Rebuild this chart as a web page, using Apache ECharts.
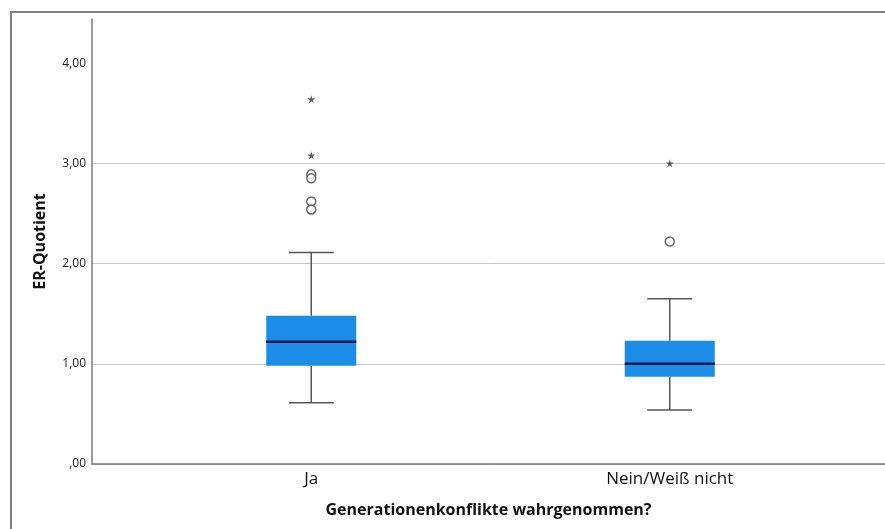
<!DOCTYPE html>
<html>
<head>
<meta charset="utf-8">
<script src="https://cdn.jsdelivr.net/npm/echarts@6/dist/echarts.min.js"></script>
<style>html,body{margin:0;padding:0;background:#fff}#c{width:885px;height:529px}</style>
</head>
<body>
<div id="c"></div>
<script>
const categories = ['Ja', 'Nein/Weiß nicht'];
// [lower whisker, Q1, median, Q3, upper whisker]
const boxData = [
  [0.61, 0.98, 1.22, 1.48, 2.11],
  [0.54, 0.87, 1.00, 1.23, 1.65]
];
const outlierCircles = [[0, 2.89], [0, 2.85], [0, 2.62], [0, 2.54], [1, 2.22]];
const outlierStars = [[0, 3.64], [0, 3.08], [1, 3.00]];
const yTicks = [0, 1, 2, 3, 4];

const FONT = '"Open Sans", "DejaVu Sans", sans-serif';
const chart = echarts.init(document.getElementById('c'), null, {renderer: 'canvas'});

const boxWidth = 90, capWidth = 45;
function renderBox(params, api) {
  const ci = api.value(0);
  const lo = api.coord([ci, api.value(1)]);
  const q1 = api.coord([ci, api.value(2)]);
  const med = api.coord([ci, api.value(3)]);
  const q3 = api.coord([ci, api.value(4)]);
  const hi = api.coord([ci, api.value(5)]);
  const x = lo[0];
  const ws = {stroke: '#555', lineWidth: 1.5};
  return {
    type: 'group',
    children: [
      {type: 'line', shape: {x1: x, y1: hi[1], x2: x, y2: q3[1]}, style: ws},
      {type: 'line', shape: {x1: x, y1: q1[1], x2: x, y2: lo[1]}, style: ws},
      {type: 'line', shape: {x1: x - capWidth / 2, y1: hi[1], x2: x + capWidth / 2, y2: hi[1]}, style: ws},
      {type: 'line', shape: {x1: x - capWidth / 2, y1: lo[1], x2: x + capWidth / 2, y2: lo[1]}, style: ws},
      {type: 'rect', shape: {x: x - boxWidth / 2, y: q3[1], width: boxWidth, height: q1[1] - q3[1]}, style: {fill: '#1c8de6'}},
      {type: 'line', shape: {x1: x - boxWidth / 2, y1: med[1], x2: x + boxWidth / 2, y2: med[1]}, style: {stroke: '#0e1a4e', lineWidth: 2.5}}
    ]
  };
}

const yAxisCommon = {type: 'value', min: 0, max: 4.44, interval: 1};

chart.setOption({
  animation: false,
  backgroundColor: '#fff',
  graphic: [{
    type: 'rect', z: 100,
    shape: {x: 11, y: 12, width: 900, height: 600},
    style: {fill: 'none', stroke: '#7f7f7f', lineWidth: 2}
  }],
  grid: [
    {left: 92, right: 0, top: 19, bottom: 65},
    {left: 132, width: 717, top: 19, bottom: 65}
  ],
  xAxis: [
    {
      gridIndex: 0, type: 'value', min: 0, max: 1,
      axisLine: {show: true, onZero: false, lineStyle: {color: '#7a7a7a', width: 1.5}},
      axisTick: {show: false}, axisLabel: {show: false}, splitLine: {show: false},
      name: 'Generationenkonflikte wahrgenommen?', nameLocation: 'middle', nameGap: 38,
      nameTextStyle: {fontFamily: FONT, fontSize: 16, fontWeight: 'bold', color: '#111'}
    },
    {
      gridIndex: 1, type: 'category', data: categories, boundaryGap: true,
      axisLine: {show: false}, axisTick: {show: false}, splitLine: {show: false},
      axisLabel: {fontFamily: FONT, fontSize: 17, color: '#111', margin: 7}
    }
  ],
  yAxis: [
    Object.assign({}, yAxisCommon, {
      gridIndex: 0,
      axisLine: {show: true, lineStyle: {color: '#7a7a7a', width: 1.5}},
      axisTick: {show: false, customValues: yTicks},
      splitLine: {show: true, showMaxLine: false, lineStyle: {color: '#c8c8c8', width: 1}},
      axisLabel: {
        fontFamily: FONT, fontSize: 12, color: '#222', margin: 6,
        customValues: yTicks,
        formatter: v => v === 0 ? ',00' : v.toFixed(2).replace('.', ',')
      },
      name: 'ER-Quotient', nameLocation: 'middle', nameRotate: 90, nameGap: 44,
      nameTextStyle: {fontFamily: FONT, fontSize: 16, fontWeight: 'bold', color: '#111'}
    }),
    Object.assign({}, yAxisCommon, {
      gridIndex: 1, show: false, splitLine: {show: false}
    })
  ],
  series: [
    {
      type: 'custom', xAxisIndex: 1, yAxisIndex: 1,
      renderItem: renderBox,
      encode: {x: 0, y: [1, 2, 3, 4, 5]},
      data: boxData.map((b, i) => [i].concat(b))
    },
    {
      type: 'scatter', xAxisIndex: 1, yAxisIndex: 1,
      symbol: 'circle', symbolSize: 9,
      itemStyle: {color: '#fff', borderColor: '#444', borderWidth: 1.5},
      data: outlierCircles
    },
    {
      type: 'scatter', xAxisIndex: 1, yAxisIndex: 1,
      symbol: 'path://M50,0 L61,35 L98,35 L68,57 L79,91 L50,70 L21,91 L32,57 L2,35 L39,35 Z',
      symbolSize: 8,
      itemStyle: {color: '#333'},
      data: outlierStars
    }
  ]
});
</script>
</body>
</html>
